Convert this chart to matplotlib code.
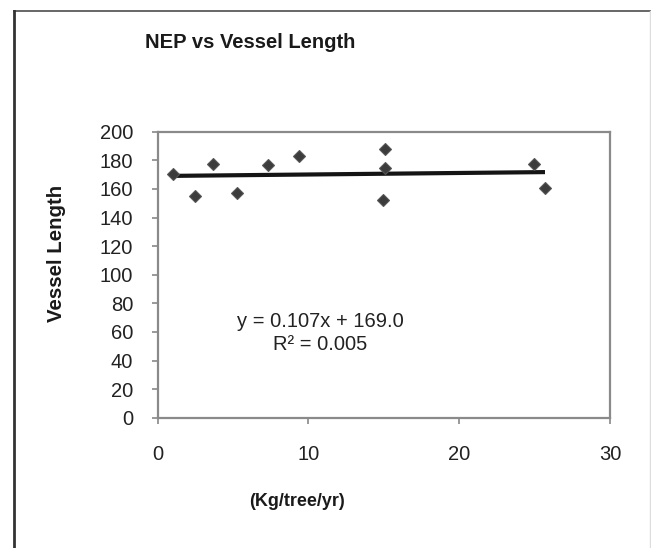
import matplotlib
matplotlib.use("Agg")
import matplotlib.pyplot as plt
from matplotlib.lines import Line2D

# NEP (kg/tree/yr) and vessel length per tree
nep = [1.05, 2.49, 3.70, 5.25, 7.35, 9.40, 15.10, 15.10, 14.93, 24.96, 25.69]
vessel_length = [170.4, 155.2, 177.4, 157.1, 176.9, 183.2, 188.1, 174.8, 152.2, 177.4, 160.4]

# linear trend reported on the chart
slope = 0.107
intercept = 169.0
r_squared = 0.005

x_ticks = [0, 10, 20, 30]
y_ticks = [0, 20, 40, 60, 80, 100, 120, 140, 160, 180, 200]

W, H = 651, 548
fig = plt.figure(figsize=(W / 100, H / 100), dpi=100)
fig.patch.set_facecolor("white")

regular = "Liberation Sans"

ax = fig.add_axes([157.5 / W, 1 - 417.7 / H, (610 - 157.5) / W, (417.7 - 131.7) / H])
ax.set_xlim(0, 30)
ax.set_ylim(0, 200)
ax.set_xticks(x_ticks)
ax.set_yticks(y_ticks)
ax.set_xticklabels([str(t) for t in x_ticks], fontfamily=regular, fontsize=14.5, color="#222222")
ax.set_yticklabels([str(t) for t in y_ticks], fontfamily=regular, fontsize=14.5, color="#222222")
ax.tick_params(axis="x", direction="out", length=4.5, width=1.2, color="#888888", pad=15)
ax.tick_params(axis="y", direction="out", length=4.5, width=1.2, color="#888888", pad=13)
for s in ax.spines.values():
    s.set_color("#8a8a8a")
    s.set_linewidth(1.6)

# trend line from the fitted equation
x0, x1 = min(nep), max(nep)
ax.plot([x0, x1], [slope * x0 + intercept, slope * x1 + intercept],
        color="#151515", lw=3.0, solid_capstyle="butt", zorder=3)

ax.plot(nep, vessel_length, linestyle="none", marker="D", markersize=6.5,
        markerfacecolor="#3c3c3c", markeredgecolor="#555555", markeredgewidth=0.8, zorder=4)

ax.text(0.36, 0.316, f"y = {slope:.3f}x + {intercept:.1f}", transform=ax.transAxes,
        ha="center", va="baseline", fontfamily=regular, fontsize=14.5, color="#222222")
ax.text(0.36, 0.2375, f"R² = {r_squared:.3f}", transform=ax.transAxes,
        ha="center", va="baseline", fontfamily=regular, fontsize=14.5, color="#222222")

fig.text(250 / W, 1 - 48 / H, "NEP vs Vessel Length", ha="center", va="baseline",
         fontfamily=regular, fontweight="bold", fontsize=14.5, color="#1a1a1a")
fig.text(297 / W, 1 - 506 / H, "(Kg/tree/yr)", ha="center", va="baseline",
         fontfamily=regular, fontweight="bold", fontsize=13, color="#1a1a1a")
fig.text(57 / W, 1 - 253 / H, "Vessel Length", ha="center", va="center", rotation=90,
         fontfamily=regular, fontweight="bold", fontsize=14.7, color="#1a1a1a")

# outer chart frame
fig.add_artist(Line2D([14 / W, 1.0], [1 - 11 / H, 1 - 11 / H], transform=fig.transFigure,
                      color="#5a5a5a", lw=1.3))
fig.add_artist(Line2D([14 / W, 14 / W], [0, 1 - 11 / H], transform=fig.transFigure,
                      color="#333333", lw=2.0))
fig.add_artist(Line2D([650 / W, 650 / W], [0, 1 - 11 / H], transform=fig.transFigure,
                      color="#dddddd", lw=1.0))

fig.savefig("out.png", dpi=100, facecolor="white")
